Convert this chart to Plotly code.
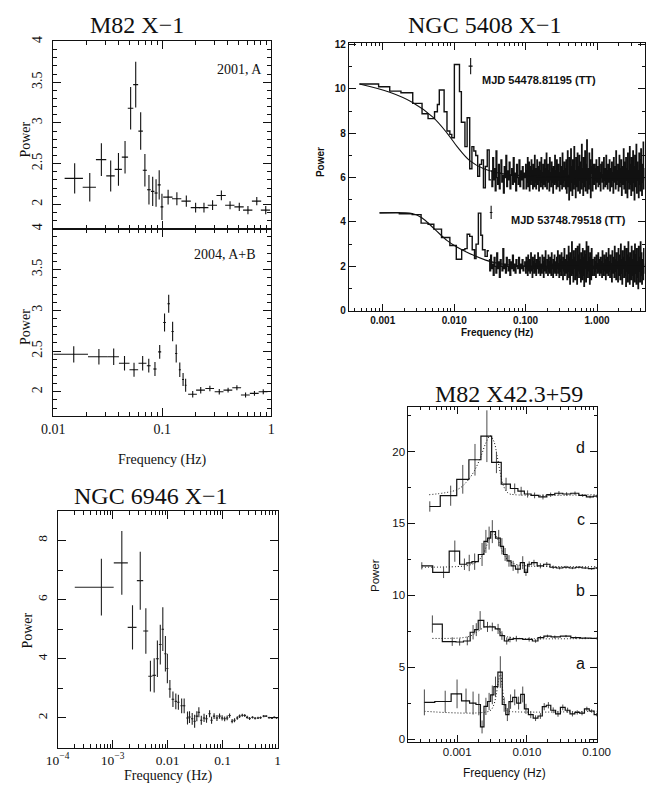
import numpy as np
import plotly.graph_objects as go

W, H = 659, 789
INK = "#111111"
GREY = "#4a4a4a"
SERIF = "Liberation Serif"
SANS = "Liberation Sans"

# ---------------- M82 X-1, 2001 observation (A) ----------------
m82_01_freq = [0.0157, 0.0216, 0.0276, 0.0336, 0.0396, 0.0455, 0.0512, 0.0570, 0.0633,
               0.0692, 0.0754, 0.0816, 0.0876, 0.0936, 0.0992, 0.113, 0.136, 0.166,
               0.202, 0.241, 0.289, 0.348, 0.418, 0.508, 0.610, 0.735, 0.888]
m82_01_fhw = [0.003, 0.003, 0.003, 0.003, 0.003, 0.003, 0.003, 0.003, 0.003, 0.003,
              0.003, 0.003, 0.003, 0.003, 0.003, 0.0111, 0.0133, 0.0163, 0.0198, 0.0236,
              0.0283, 0.0341, 0.041, 0.0498, 0.0598, 0.072, 0.087]
m82_01_power = [2.32, 2.21, 2.55, 2.35, 2.43, 2.58, 3.18, 3.47, 2.90, 2.42, 2.18, 2.16,
                2.14, 2.24, 1.97, 2.09, 2.07, 2.04, 1.96, 1.96, 1.99, 2.11, 1.99, 1.97,
                1.93, 2.04, 1.93]
m82_01_err = [0.185, 0.175, 0.20, 0.19, 0.20, 0.20, 0.26, 0.28, 0.23, 0.20, 0.18, 0.18,
              0.17, 0.18, 0.16, 0.09, 0.08, 0.07, 0.06, 0.06, 0.06, 0.06, 0.05, 0.05,
              0.05, 0.05, 0.05]

# ---------------- M82 X-1, 2004 observations (A+B) ----------------
m82_04_freq = [0.0154, 0.0262, 0.0358, 0.0450, 0.0550, 0.0660, 0.0751, 0.0856, 0.0946,
               0.1048, 0.1144, 0.1243, 0.1341, 0.1446, 0.155, 0.1636, 0.190, 0.225,
               0.273, 0.333, 0.401, 0.483, 0.580, 0.700, 0.843]
m82_04_fhw = [0.0054, 0.0054, 0.0042, 0.005, 0.005, 0.0055, 0.003, 0.003, 0.003, 0.003,
              0.003, 0.003, 0.003, 0.003, 0.003, 0.003, 0.0175, 0.021, 0.025, 0.031,
              0.037, 0.045, 0.054, 0.065, 0.078]
m82_04_power = [2.46, 2.43, 2.43, 2.35, 2.27, 2.35, 2.32, 2.28, 2.49, 2.85, 3.08, 2.74,
                2.47, 2.27, 2.15, 2.08, 1.97, 2.02, 2.04, 2.00, 2.02, 2.05, 1.96, 1.98, 2.00]
m82_04_err = [0.10, 0.095, 0.10, 0.09, 0.085, 0.09, 0.085, 0.085, 0.085, 0.11, 0.11,
              0.12, 0.11, 0.09, 0.08, 0.08, 0.04, 0.04, 0.035, 0.035, 0.03, 0.03, 0.03,
              0.03, 0.03]

# ---------------- NGC 5408 X-1 ----------------
# rebinned low-frequency part: bin edges (Hz) and powers
n5408_hi_edges = [4.72e-4, 8.76e-4, 1.253e-3, 1.799e-3, 2.63e-3, 3.55e-3, 4.31e-3, 5.31e-3,
                  5.82e-3, 6.19e-3, 7.23e-3, 7.93e-3, 8.7e-3, 9.26e-3, 1.006e-2, 1.186e-2,
                  1.261e-2, 1.414e-2, 1.518e-2, 1.65e-2, 1.771e-2, 1.884e-2, 2.004e-2,
                  2.132e-2, 2.267e-2, 2.413e-2, 2.567e-2, 2.73e-2, 2.904e-2, 3.09e-2, 3.287e-2]
n5408_hi_power = [10.22, 10.1, 9.9, 9.83, 9.35, 8.88, 8.66, 8.97, 9.3, 9.95, 8.97, 8.1,
                  7.95, 7.8, 11.1, 9.88, 8.5, 7.4, 8.7, 6.4, 7.4, 7.2, 7.0, 6.06, 6.6,
                  6.8, 5.54, 6.5, 7.25, 5.9]
# unbinned part: powers between the last bin edge and 0.1 Hz, then from 0.1 Hz to the axis end
n5408_hi_noise_a = [
    6.3, 5.6, 6.9, 5.9, 6.4, 5.4, 7.2, 6.0, 5.7, 6.6, 5.5, 6.2, 6.8, 5.8, 6.1, 5.3, 6.5, 6.0,
    7.0, 5.6, 6.3, 5.9, 6.7, 5.5, 6.1, 6.4, 5.7, 6.9, 5.8, 6.2, 5.4, 6.6, 6.0, 5.7, 6.8, 5.6,
    6.3, 5.9, 6.5, 5.5, 6.2, 6.0]
n5408_hi_noise_b = [
    6.6, 5.5, 6.3, 5.8, 6.9, 5.6, 6.2, 6.7, 5.4, 6.0, 6.5, 5.7, 6.8, 5.9, 6.3, 5.5, 6.6, 6.1,
    5.6, 7.0, 5.8, 6.4, 5.5, 6.2, 6.8, 5.7, 6.0, 6.5, 5.4, 6.7, 5.9, 6.3, 5.6, 6.9, 5.8, 6.2,
    5.5, 6.6, 6.0, 5.7, 6.8, 5.6, 6.4, 5.9, 7.1, 5.5, 6.1, 6.6, 5.8, 6.3, 5.4, 6.9, 5.9, 6.2,
    5.6, 6.7, 5.8, 6.4, 5.3, 6.5, 6.0, 5.7, 7.0, 5.8, 6.3, 5.5, 6.8, 6.0, 5.6, 6.6, 5.9, 6.2,
    5.4, 6.9, 5.7, 6.5, 6.0, 5.5, 7.1, 5.8, 6.3, 5.6, 6.7, 5.9, 6.4, 5.5, 6.8,
    5.3, 6.6, 7.2, 5.6, 6.1, 5.0, 6.9, 6.3, 5.4, 7.3, 5.8, 6.5, 5.2, 6.8, 6.0, 5.5, 7.4, 5.7,
    6.3, 5.1, 6.9, 6.2, 5.6, 7.1, 5.4, 6.5, 5.9, 7.0, 5.3, 6.7, 6.1, 5.5, 7.5, 5.8, 6.4, 5.2,
    6.9, 6.0, 5.6, 7.2, 5.4, 6.6, 5.9, 7.7, 5.3, 6.4, 6.0, 5.5, 7.1, 5.7, 6.8, 5.1, 6.5, 6.2,
    7.3, 5.4, 6.6,
    6.1, 5.7, 6.6, 5.9, 6.4, 5.5, 6.8, 6.0, 5.8, 6.5, 5.6, 6.3, 6.9, 5.7, 6.2, 5.4, 6.6, 6.0,
    6.7, 5.8, 6.1, 5.5, 6.9, 5.9, 6.4, 5.6, 6.2, 7.0, 5.7, 6.3, 5.5, 6.6, 6.1, 5.8, 6.8, 5.4,
    6.4, 6.0, 5.6, 6.7, 5.9, 6.2, 5.3, 6.9, 5.8, 6.5, 6.0, 5.5, 7.2, 5.7, 6.3, 5.9, 6.6, 5.4,
    6.1, 7.0, 5.6, 6.4, 5.8, 6.8, 5.2, 6.5, 6.0, 5.7, 7.3, 5.5, 6.2, 6.7, 5.3, 6.9, 5.9, 6.4,
    5.1, 7.1, 5.8, 6.3, 5.5, 7.4, 5.7, 6.6, 5.2, 6.9, 6.1, 5.4, 7.2, 5.8, 6.5, 5.0, 7.0, 6.0,
    5.6, 7.5, 5.3, 6.7, 5.9, 6.3, 5.1, 7.1, 5.7, 6.8, 5.4, 7.3, 6.0, 5.2, 6.6, 5.8, 7.6, 5.5,
    6.4, 5.9]
n5408_hi_model_f = [4.72e-4, 1.253e-3, 2.58e-3, 5.03e-3, 8.0e-3, 1.1e-2, 1.65e-2, 2.6e-2,
                    4.62e-2, 7.79e-2, 0.3, 4.7]
n5408_hi_model = [10.22, 9.85, 9.4, 8.73, 8.0, 7.4, 6.77, 6.4, 6.18, 6.1, 6.02, 6.0]

n5408_lo_edges = [9.03e-4, 1.707e-3, 2.583e-3, 3.443e-3, 4.313e-3, 5.193e-3, 6.65e-3, 8.7e-3,
                  1.07e-2, 1.273e-2, 1.414e-2, 1.518e-2, 1.65e-2, 1.788e-2, 1.926e-2,
                  2.023e-2, 2.18e-2, 2.36e-2, 2.489e-2, 2.705e-2, 2.904e-2, 3.06e-2]
n5408_lo_power = [4.41, 4.37, 4.33, 3.95, 3.9, 3.68, 3.3, 2.94, 2.32, 2.75, 2.8, 3.45,
                  3.35, 2.75, 2.35, 3.0, 4.4, 3.4, 2.75, 2.45, 2.7]
n5408_lo_noise_a = [
    2.3, 1.8, 2.5, 1.9, 2.1, 1.6, 2.4, 2.0, 1.7, 2.6, 1.9, 2.2, 1.5, 2.3, 2.0, 1.8, 2.8, 1.9,
    2.1, 1.7, 2.4, 2.0, 1.8, 2.3, 1.6, 2.2, 1.9, 2.5, 1.8, 2.1, 1.7, 2.3, 2.0, 1.9, 2.4, 1.7,
    2.1, 1.9, 2.3, 1.8, 2.0, 2.2]
n5408_lo_noise_b = [
    1.7, 2.4, 1.9, 2.2, 1.6, 2.5, 2.0, 1.8, 2.3, 1.7, 2.1, 2.6, 1.8, 2.0, 1.5, 2.4, 1.9, 2.2,
    1.7, 2.5, 1.8, 2.1, 1.6, 2.3, 2.0, 1.9, 2.6, 1.7, 2.2, 1.8, 2.4, 1.6, 2.1, 2.0, 1.7, 2.5,
    1.9, 2.2, 1.5, 2.4, 1.8, 2.1, 2.7, 1.7, 2.0, 1.9, 2.3, 1.6, 2.5, 1.8, 2.2, 1.7, 2.4, 2.0,
    1.6, 2.6, 1.9, 2.1, 1.5, 2.3, 1.8, 2.5, 1.7, 2.2, 2.0, 1.6, 2.4, 1.9, 2.7, 1.7, 2.1, 1.5,
    2.5, 1.8, 2.3, 1.6, 2.6, 1.9, 2.2, 1.4, 2.4, 1.8, 2.8, 1.6, 2.3, 2.0, 1.7,
    2.5, 1.4, 2.2, 1.8, 2.9, 1.5, 2.4, 1.2, 2.6, 2.0, 1.6, 3.1, 1.7, 2.3, 1.3, 2.7, 1.9, 2.4,
    1.4, 2.8, 1.6, 2.2, 1.2, 2.9, 1.8, 2.5, 1.5, 3.0, 1.7, 2.3, 1.3, 2.6, 2.0, 1.4, 2.8, 1.6,
    2.4, 1.1, 2.7, 1.9, 2.5, 1.3, 3.1, 1.7, 2.2, 1.5, 2.9, 1.8, 2.4, 1.2, 2.6, 2.0, 1.4, 2.8,
    1.6, 2.3, 1.9,
    2.0, 1.6, 2.4, 1.8, 2.2, 1.5, 2.5, 1.9, 2.1, 1.7, 2.6, 1.8, 2.3, 1.6, 2.0, 2.4, 1.7, 2.2,
    1.5, 2.7, 1.9, 2.1, 1.6, 2.5, 1.8, 2.3, 1.4, 2.6, 2.0, 1.7, 2.4, 1.6, 2.8, 1.8, 2.2, 1.5,
    2.5, 1.9, 2.1, 1.3, 2.7, 1.7, 2.4, 2.0, 1.5, 2.9, 1.8, 2.3, 1.4, 2.6, 1.9, 2.2, 1.3, 2.8,
    1.6, 2.5, 2.0, 1.4, 3.0, 1.7, 2.3, 1.2, 2.7, 1.9, 2.4, 1.5, 2.9, 1.6, 2.2, 1.1, 2.8, 1.8,
    2.5, 1.3, 3.1, 1.7, 2.4, 1.2, 2.6, 2.0, 1.4, 2.9, 1.6, 2.3, 1.1, 2.7, 1.9, 1.3, 3.0, 1.7,
    2.5, 1.2, 2.8, 1.5, 2.2, 1.0, 2.9, 1.8, 2.4, 1.3, 3.1, 1.6, 2.6, 1.2, 2.3, 1.9, 1.4, 2.8,
    1.7, 2.1]
n5408_lo_model_f = [9.03e-4, 2.583e-3, 3.52e-3, 5.31e-3, 7.98e-3, 1.09e-2, 1.48e-2,
                    2.76e-2, 4.17e-2, 7.79e-2, 0.2, 4.7]
n5408_lo_model = [4.41, 4.38, 4.19, 3.68, 3.16, 2.87, 2.65, 2.28, 2.13, 2.03, 2.0, 2.0]
noise_split = 0.1
noise_end = 4.7

# typical error bars drawn beside each spectrum
n5408_bar_f = [0.017, 0.0329]
n5408_bar_fhw = [0.0011, 0.0014]
n5408_bar_p = [11.03, 4.43]
n5408_bar_err = [0.37, 0.30]

# ---------------- NGC 6946 X-1 ----------------
n6946_freq = [6.25e-4, 1.47e-3, 2.30e-3, 3.18e-3, 4.02e-3, 4.87e-3, 5.70e-3, 6.52e-3,
              7.36e-3, 8.18e-3, 9.12e-3, 9.9e-3, 1.10e-2, 1.25e-2, 1.41e-2, 1.57e-2,
              1.80e-2, 2.0e-2, 2.3e-2, 2.5e-2, 2.8e-2, 3.1e-2, 3.4e-2, 3.7e-2, 4.1e-2,
              4.6e-2, 5.1e-2, 5.8e-2, 6.3e-2, 7.0e-2, 7.9e-2, 8.8e-2, 9.8e-2, 0.109,
              0.121, 0.134, 0.149, 0.165, 0.185, 0.204, 0.228, 0.253, 0.28, 0.31, 0.35,
              0.39, 0.44, 0.49, 0.56, 0.62, 0.70, 0.79, 0.87, 0.96]
n6946_fhw = [4.2e-4, 4.2e-4, 4.2e-4, 4.2e-4, 4.2e-4, 4.2e-4, 4.2e-4, 4.2e-4, 4.2e-4, 4.2e-4,
             4.2e-4, 4.2e-4, 6e-4, 7e-4, 7e-4, 8e-4, 9e-4, 1.0e-3, 1.2e-3, 1.3e-3, 1.4e-3,
             1.5e-3, 1.7e-3, 1.9e-3, 2.0e-3, 2.3e-3, 2.5e-3, 2.9e-3, 3.1e-3, 3.5e-3,
             4.0e-3, 4.4e-3, 4.9e-3, 5.4e-3, 6.0e-3, 6.7e-3, 7.4e-3, 8.2e-3, 9.2e-3,
             0.010, 0.011, 0.013, 0.014, 0.015, 0.017, 0.019, 0.022, 0.024, 0.028, 0.031,
             0.035, 0.039, 0.043, 0.045]
n6946_power = [6.42, 7.24, 5.06, 6.64, 4.94, 3.41, 3.44, 4.0, 4.48, 5.0, 4.17, 3.67, 2.98,
               2.63, 2.56, 2.53, 2.41, 2.41, 2.0, 2.03, 1.97, 1.89, 2.06, 2.19, 1.92, 2.0,
               1.97, 2.14, 1.92, 2.06, 2.0, 2.06, 2.0, 1.97, 2.0, 2.08, 1.89, 1.92, 2.0,
               2.06, 2.09, 2.08, 2.02, 1.98, 2.02, 1.99, 2.0, 2.01, 2.06, 2.06, 2.01, 1.99,
               2.02, 2.0]
n6946_err = [0.96, 1.08, 0.75, 0.98, 0.77, 0.52, 0.58, 0.62, 0.67, 0.74, 0.6, 0.5, 0.3,
             0.26, 0.27, 0.25, 0.25, 0.25, 0.22, 0.2, 0.2, 0.22, 0.17, 0.17, 0.15, 0.14,
             0.13, 0.12, 0.12, 0.1, 0.1, 0.09, 0.09, 0.08, 0.08, 0.07, 0.07, 0.07, 0.06,
             0.06, 0.05, 0.05, 0.05, 0.05, 0.04, 0.04, 0.04, 0.04, 0.04, 0.03, 0.03, 0.03,
             0.03, 0.03]

# ---------------- M82 X42.3+59 (four observations, offset vertically) ----------------
x42_a_freq = [3.379e-4, 6.725e-4, 9.95e-4, 1.338e-3, 1.689e-3, 2.043e-3, 2.272e-3, 2.579e-3,
              2.867e-3, 3.187e-3, 3.542e-3, 4.153e-3, 4.717e-3, 5.242e-3, 5.828e-3, 6.689e-3,
              7.597e-3, 8.714e-3, 9.69e-3, 1.136e-2, 1.331e-2, 1.56e-2, 1.771e-2, 2.032e-2,
              2.382e-2, 2.793e-2, 3.272e-2, 3.836e-2, 4.496e-2, 5.27e-2, 6.177e-2, 7.24e-2,
              8.485e-2, 0.1]
x42_a_power = [2.55, 2.61, 3.14, 2.66, 2.5, 2.4, 0.84, 2.27, 2.61, 3.07, 3.64, 4.66, 2.4,
               1.7, 2.6, 2.9, 2.5, 3.1, 2.1, 1.7, 1.45, 1.6, 2.25, 2.35, 2.0, 1.75, 2.2,
               2.0, 1.75, 1.85, 1.8, 2.1, 1.95, 1.7]
x42_a_err = [0.9, 0.75, 1.0, 0.85, 0.8, 0.75, 0.45, 0.6, 0.6, 0.65, 0.7, 1.1, 0.5, 0.45,
             0.5, 0.55, 0.45, 0.55, 0.35, 0.25, 0.2, 0.2, 0.25, 0.22, 0.2, 0.2, 0.2, 0.18,
             0.18, 0.15, 0.15, 0.15, 0.12, 0.12]
x42_a_model_f = [3.38e-4, 2.9e-3, 3.3e-3, 3.6e-3, 3.9e-3, 4.15e-3, 4.4e-3, 4.7e-3, 5.1e-3,
                 5.5e-3, 0.1]
x42_a_model = [1.93, 1.95, 2.3, 3.0, 4.0, 4.5, 3.8, 2.6, 2.0, 1.93, 1.93]

x42_b_freq = [4.402e-4, 8.486e-4, 1.083e-3, 1.396e-3, 1.689e-3, 1.877e-3, 2.132e-3, 2.72e-3,
              3.187e-3, 3.857e-3, 4.378e-3, 5.133e-3, 5.706e-3, 7.05e-3, 1.077e-2, 1.331e-2,
              1.56e-2, 1.969e-2, 2.512e-2, 3.637e-2, 5.0e-2, 6.866e-2, 0.1]
x42_b_power = [8.0, 6.78, 6.75, 6.82, 7.43, 7.61, 8.25, 7.8, 7.8, 7.66, 7.2, 6.82, 6.93,
               6.98, 6.93, 6.82, 7.05, 7.16, 7.1, 7.16, 7.05, 7.02, 7.0]
x42_b_err = [0.6, 0.3, 0.25, 0.3, 0.5, 0.45, 0.65, 0.35, 0.3, 0.35, 0.3, 0.25, 0.2, 0.2,
             0.15, 0.12, 0.12, 0.1, 0.1, 0.08, 0.08, 0.07, 0.07]
x42_b_model_f = [4.4e-4, 1.2e-3, 1.6e-3, 2.0e-3, 2.5e-3, 3.0e-3, 3.6e-3, 4.2e-3, 5.0e-3,
                 6.5e-3, 0.1]
x42_b_model = [7.0, 7.05, 7.2, 7.5, 7.8, 7.85, 7.7, 7.4, 7.15, 7.03, 7.0]

x42_c_freq = [3.104e-4, 6.375e-4, 9.24e-4, 1.269e-3, 1.487e-3, 1.78e-3, 2.272e-3, 2.579e-3,
              2.867e-3, 3.187e-3, 3.938e-3, 4.378e-3, 4.867e-3, 5.528e-3, 6.343e-3, 7.43e-3,
              8.714e-3, 9.69e-3, 1.077e-2, 1.262e-2, 1.56e-2, 1.928e-2, 2.382e-2, 2.944e-2,
              3.637e-2, 4.496e-2, 5.557e-2, 6.866e-2, 8.485e-2, 0.1]
x42_c_power = [12.05, 11.6, 13.07, 12.16, 12.25, 12.34, 12.84, 13.75, 13.98, 14.43, 13.98,
               13.41, 12.84, 12.39, 12.05, 11.82, 12.27, 11.6, 12.16, 12.27, 12.05, 12.16,
               11.95, 11.9, 11.95, 11.9, 11.95, 11.9, 11.85, 11.9]
x42_c_err = [0.25, 0.4, 0.74, 0.4, 0.57, 0.57, 0.8, 0.8, 0.8, 0.8, 0.57, 0.57, 0.45, 0.4,
             0.35, 0.3, 0.45, 0.25, 0.2, 0.2, 0.18, 0.15, 0.12, 0.1, 0.1, 0.08, 0.08, 0.07,
             0.07, 0.07]
x42_c_model_f = [3.1e-4, 1.0e-3, 1.5e-3, 2.0e-3, 2.4e-3, 2.8e-3, 3.2e-3, 3.6e-3, 4.0e-3,
                 4.6e-3, 5.5e-3, 7.0e-3, 1.0e-2, 2.0e-2, 0.1]
x42_c_model = [11.95, 12.0, 12.1, 12.4, 12.95, 13.75, 14.25, 14.15, 13.65, 12.9, 12.4,
               12.15, 12.05, 12.0, 12.0]

x42_d_freq = [4.045e-4, 8.06e-4, 1.202e-3, 1.799e-3, 2.664e-3, 3.654e-3, 5.02e-3, 6.68e-3,
              8.26e-3, 1.023e-2, 1.289e-2, 1.699e-2, 2.19e-2, 2.88e-2, 3.71e-2, 4.894e-2,
              6.31e-2, 8.05e-2, 0.1]
x42_d_power = [16.18, 16.93, 18.07, 19.43, 21.07, 19.25, 17.73, 17.43, 17.25, 17.05, 16.95,
               16.85, 17.0, 17.1, 17.05, 17.1, 16.95, 16.85, 16.9]
x42_d_err = [0.36, 0.7, 1.0, 1.1, 1.8, 0.75, 0.45, 0.35, 0.3, 0.25, 0.2, 0.18, 0.15, 0.15,
             0.12, 0.12, 0.1, 0.1, 0.1]
x42_d_model_f = [3.96e-4, 9.95e-4, 1.367e-3, 1.78e-3, 2.2e-3, 2.577e-3, 2.965e-3, 3.365e-3,
                 3.737e-3, 4.153e-3, 4.617e-3, 5.413e-3, 6.69e-3, 0.1]
x42_d_model = [17.0, 17.35, 17.9, 18.7, 19.7, 20.6, 21.1, 20.7, 19.7, 18.5, 17.6, 17.1,
               17.0, 17.0]

x42_labels = ["a", "b", "c", "d"]
x42_label_y = [5.25, 10.3, 15.3, 20.3]


# ---------------- helpers ----------------
def px(x):
    return x / W


def py(y):
    return 1 - y / H


def log_minor(e0, e1):
    return [m * 10.0 ** e for e in range(e0, e1 + 1) for m in range(2, 10)]


def axis(**kw):
    base = dict(showline=True, linecolor=INK, linewidth=1, mirror="allticks",
                ticks="inside", tickcolor=INK, tickwidth=1, showgrid=False,
                zeroline=False, layer="above traces")
    base.update(kw)
    return base


def hist_steps(edges, values):
    return list(edges), list(values) + [values[-1]]


fig = go.Figure()


def crosses(xa, ya, f, fhw, p, err, color=INK, width=1.1):
    fig.add_trace(go.Scatter(
        x=f, y=p, mode="markers", xaxis=xa, yaxis=ya,
        marker=dict(size=1, color=color),
        error_x=dict(type="data", array=fhw, symmetric=True, width=0,
                     thickness=width, color=color),
        error_y=dict(type="data", array=err, symmetric=True, width=0,
                     thickness=width, color=color),
        hoverinfo="skip"))


def step_line(xa, ya, sx, sy, width):
    fig.add_trace(go.Scatter(x=sx, y=sy, mode="lines", line_shape="hv", xaxis=xa,
                             yaxis=ya, line=dict(color=INK, width=width), hoverinfo="skip"))


# M82 X-1 panels
crosses("x", "y", m82_01_freq, m82_01_fhw, m82_01_power, m82_01_err)
crosses("x2", "y2", m82_04_freq, m82_04_fhw, m82_04_power, m82_04_err)

# NGC 5408 X-1 spectra
for edges, vals, na, nb, mf, mv in [
        (n5408_hi_edges, n5408_hi_power, n5408_hi_noise_a, n5408_hi_noise_b,
         n5408_hi_model_f, n5408_hi_model),
        (n5408_lo_edges, n5408_lo_power, n5408_lo_noise_a, n5408_lo_noise_b,
         n5408_lo_model_f, n5408_lo_model)]:
    step_line("x3", "y3", *hist_steps(edges, vals), 1.4)
    ea = np.geomspace(edges[-1], noise_split, len(na) + 1)
    eb = np.geomspace(noise_split, noise_end, len(nb) + 1)
    step_line("x3", "y3", list(ea) + list(eb[1:]), list(na) + list(nb) + [nb[-1]], 1.35)
    fig.add_trace(go.Scatter(x=mf, y=mv, mode="lines", line_shape="spline", xaxis="x3",
                             yaxis="y3", line=dict(color=INK, width=1.1), hoverinfo="skip"))
crosses("x3", "y3", n5408_bar_f, n5408_bar_fhw, n5408_bar_p, n5408_bar_err)

# NGC 6946 X-1
crosses("x4", "y4", n6946_freq, n6946_fhw, n6946_power, n6946_err, color="#222222")

# M82 X42.3+59
for f, p, e, mf, mv in [(x42_a_freq, x42_a_power, x42_a_err, x42_a_model_f, x42_a_model),
                        (x42_b_freq, x42_b_power, x42_b_err, x42_b_model_f, x42_b_model),
                        (x42_c_freq, x42_c_power, x42_c_err, x42_c_model_f, x42_c_model),
                        (x42_d_freq, x42_d_power, x42_d_err, x42_d_model_f, x42_d_model)]:
    fig.add_trace(go.Scatter(x=mf, y=mv, mode="lines", line_shape="spline", xaxis="x5",
                             yaxis="y5", line=dict(color=INK, width=1, dash="1px,2px"),
                             hoverinfo="skip"))
    fig.add_trace(go.Scatter(x=f, y=p, mode="markers", xaxis="x5", yaxis="y5",
                             marker=dict(size=1, color=GREY),
                             error_y=dict(type="data", array=e, symmetric=True, width=0,
                                          thickness=1, color=GREY), hoverinfo="skip"))
    fig.add_trace(go.Scatter(x=f, y=p, mode="lines", line_shape="hvh", xaxis="x5",
                             yaxis="y5", line=dict(color=INK, width=1.2), hoverinfo="skip"))

# ---------------- axes ----------------
serif_tick = dict(family=SERIF, size=14, color=INK)
bold_tick = dict(family=SANS, size=10, color=INK, weight="bold")
sans_tick = dict(family=SANS, size=11.5, color=INK)

P1X = [px(43), px(270)]
fig.update_layout(
    xaxis=axis(type="log", range=[-2, 0], domain=P1X, anchor="y", showticklabels=False,
               tickvals=[0.01, 0.1, 1], ticklen=8,
               minor=dict(tickmode="array", tickvals=log_minor(-2, -1), ticks="inside",
                          ticklen=4, tickcolor=INK)),
    yaxis=axis(range=[1.7, 4.0], domain=[py(226), py(36)], anchor="x",
               tickvals=[2, 2.5, 3, 3.5, 4], ticktext=["2", "2.5", "3", "3.5", "4"],
               ticklen=8, tickangle=-90, tickfont=serif_tick, ticklabelstandoff=5,
               minor=dict(dtick=0.1, tick0=0, ticks="inside", ticklen=4, tickcolor=INK)),
    xaxis2=axis(type="log", range=[-2, 0], domain=P1X, anchor="y2",
                tickvals=[0.01, 0.1, 1], ticktext=["0.01", "0.1", "1"], ticklen=8,
                tickfont=serif_tick,
                minor=dict(tickmode="array", tickvals=log_minor(-2, -1), ticks="inside",
                           ticklen=4, tickcolor=INK)),
    yaxis2=axis(range=[1.7, 4.0], domain=[py(416), py(226)], anchor="x2",
                tickvals=[2, 2.5, 3, 3.5, 4], ticktext=["2", "2.5", "3", "3.5", "4"],
                ticklen=8, tickangle=-90, tickfont=serif_tick, ticklabelstandoff=5,
                minor=dict(dtick=0.1, tick0=0, ticks="inside", ticklen=4, tickcolor=INK)),
    xaxis3=axis(type="log", range=[-3.474, 0.664], domain=[px(350.7), px(658.5)],
                anchor="y3", tickvals=[0.001, 0.01, 0.1, 1],
                ticktext=["0.001", "0.010", "0.100", "1.000"], ticklen=7,
                tickfont=bold_tick,
                minor=dict(tickmode="array", tickvals=log_minor(-4, 0), ticks="inside",
                           ticklen=3, tickcolor=INK)),
    yaxis3=axis(range=[0, 12.05], domain=[py(309), py(38)], anchor="x3",
                tickvals=[0, 2, 4, 6, 8, 10, 12], ticklen=7, tickfont=bold_tick,
                minor=dict(dtick=1, tick0=0, ticks="inside", ticklen=3, tickcolor=INK)),
    xaxis4=axis(type="log", range=[-4, 0], domain=[px(47.5), px(276.5)], anchor="y4",
                tickvals=[1e-4, 1e-3, 0.01, 0.1, 1],
                ticktext=["10<sup>\u22124</sup>", "10<sup>\u22123</sup>", "0.01", "0.1", "1"],
                ticklen=8, tickfont=dict(family=SERIF, size=13.5, color=INK),
                minor=dict(tickmode="array", tickvals=log_minor(-4, -1), ticks="inside",
                           ticklen=4, tickcolor=INK)),
    yaxis4=axis(range=[1, 9], domain=[py(752), py(512)], anchor="x4",
                tickvals=[2, 4, 6, 8], ticklen=8, tickangle=-90, ticklabelstandoff=4,
                tickfont=dict(family=SERIF, size=13.5, color=INK),
                minor=dict(dtick=1, tick0=0, ticks="inside", ticklen=5, tickcolor=INK)),
    xaxis5=axis(type="log", range=[-3.70, -0.995], domain=[px(412.7), px(609)],
                anchor="y5", tickvals=[0.001, 0.01, 0.1],
                ticktext=["0.001", "0.010", "0.100"], ticklen=7, tickfont=sans_tick,
                minor=dict(tickmode="array", tickvals=log_minor(-4, -2), ticks="inside",
                           ticklen=3, tickcolor=INK)),
    yaxis5=axis(range=[-0.18, 23.1], domain=[py(746), py(406.7)], anchor="x5",
                tickvals=[0, 5, 10, 15, 20], ticklen=7, tickfont=sans_tick,
                minor=dict(dtick=2.5, tick0=0, ticks="inside", ticklen=3, tickcolor=INK)),
)


# ---------------- text ----------------
def label(text, x, y, size, family=SERIF, angle=0, xanchor="center", weight="normal"):
    fig.add_annotation(text=text, x=px(x), y=py(y), xref="paper", yref="paper",
                       showarrow=False, textangle=angle, xanchor=xanchor,
                       yanchor="middle", font=dict(family=family, size=size, color=INK,
                                                   weight=weight))


TITLE = 24
label("M82 X\u22121", 130, 19, TITLE)
label("NGC 5408 X\u22121", 492, 19, TITLE)
label("NGC 6946 X\u22121", 145, 497, TITLE)
label("M82 X42.3+59", 517, 393, TITLE)

label("2001, A", 262, 64, 14, xanchor="right")
label("2004, A+B", 256, 252, 14, xanchor="right")
label("Power", 14, 135, 14, angle=-90)
label("Power", 14, 325, 14, angle=-90)
label("Frequency (Hz)", 157, 460, 14)

label("Power", 322, 158, 10, family=SANS, angle=-90, weight="bold")
label("Frequency (Hz)", 505, 331, 10, family=SANS, weight="bold")
label("MJD 54478.81195 (TT)", 487, 75, 11, family=SANS, xanchor="left", weight="bold")
label("MJD 53748.79518 (TT)", 517, 217, 11, family=SANS, xanchor="left", weight="bold")

label("Power", 16, 633, 14, angle=-90)
label("Frequency (Hz)", 163, 781, 14)

label("Power", 378, 578, 11.5, family=SANS, angle=-90)
label("Frequency (Hz)", 513, 778, 12, family=SANS)
for t, yv in zip(x42_labels, x42_label_y):
    fig.add_annotation(text=t, x=px(592), y=yv, xref="paper", yref="y5", showarrow=False,
                       xanchor="center", yanchor="middle",
                       font=dict(family=SANS, size=16, color=INK))

fig.update_layout(width=W, height=H, margin=dict(l=0, r=0, t=0, b=0),
                  paper_bgcolor="white", plot_bgcolor="white", showlegend=False)

fig.write_html("out.html")
